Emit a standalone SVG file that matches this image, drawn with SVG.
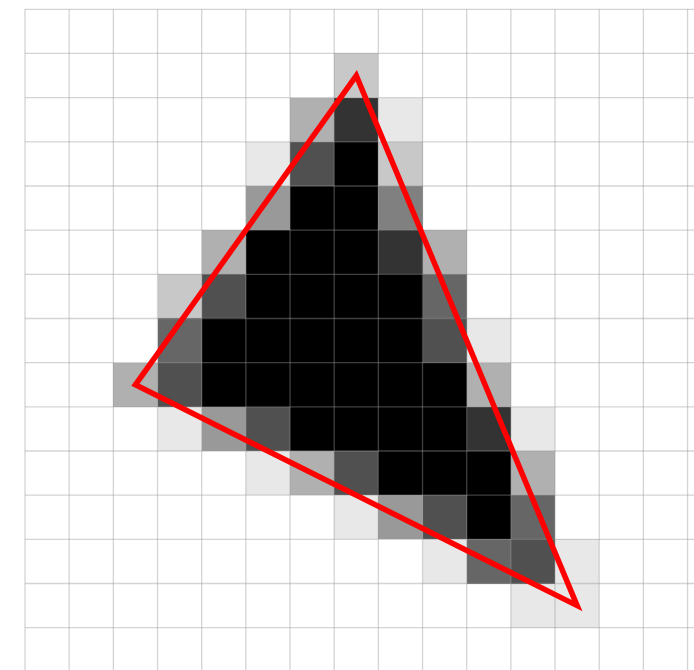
<svg xmlns="http://www.w3.org/2000/svg" width="694" height="670" viewBox="0 0 694 670">
<style>
.g{stroke:#999;stroke-opacity:0.42;stroke-width:1.3;fill:none}
.tri{fill:none;stroke:#ff0000;stroke-width:5.5;stroke-linejoin:miter;stroke-miterlimit:10}
</style>
<rect x="0" y="0" width="694" height="670" fill="#ffffff"/>
<g id="pixels" transform="translate(25 9.3) scale(44.17)" shape-rendering="crispEdges">
<rect x="7" y="1" width="1" height="1" fill="#c8c8c8"/>
<rect x="6" y="2" width="1" height="1" fill="#b0b0b0"/>
<rect x="7" y="2" width="1" height="1" fill="#333333"/>
<rect x="8" y="2" width="1" height="1" fill="#e8e8e8"/>
<rect x="5" y="3" width="1" height="1" fill="#e8e8e8"/>
<rect x="6" y="3" width="1" height="1" fill="#505050"/>
<rect x="7" y="3" width="1" height="1" fill="#000000"/>
<rect x="8" y="3" width="1" height="1" fill="#c8c8c8"/>
<rect x="5" y="4" width="1" height="1" fill="#999999"/>
<rect x="6" y="4" width="2" height="1" fill="#000000"/>
<rect x="8" y="4" width="1" height="1" fill="#808080"/>
<rect x="4" y="5" width="1" height="1" fill="#b0b0b0"/>
<rect x="5" y="5" width="3" height="1" fill="#000000"/>
<rect x="8" y="5" width="1" height="1" fill="#333333"/>
<rect x="9" y="5" width="1" height="1" fill="#b0b0b0"/>
<rect x="3" y="6" width="1" height="1" fill="#c8c8c8"/>
<rect x="4" y="6" width="1" height="1" fill="#505050"/>
<rect x="5" y="6" width="4" height="1" fill="#000000"/>
<rect x="9" y="6" width="1" height="1" fill="#666666"/>
<rect x="3" y="7" width="1" height="1" fill="#666666"/>
<rect x="4" y="7" width="5" height="1" fill="#000000"/>
<rect x="9" y="7" width="1" height="1" fill="#505050"/>
<rect x="10" y="7" width="1" height="1" fill="#e8e8e8"/>
<rect x="2" y="8" width="1" height="1" fill="#b0b0b0"/>
<rect x="3" y="8" width="1" height="1" fill="#505050"/>
<rect x="4" y="8" width="6" height="1" fill="#000000"/>
<rect x="10" y="8" width="1" height="1" fill="#b0b0b0"/>
<rect x="3" y="9" width="1" height="1" fill="#e8e8e8"/>
<rect x="4" y="9" width="1" height="1" fill="#999999"/>
<rect x="5" y="9" width="1" height="1" fill="#505050"/>
<rect x="6" y="9" width="4" height="1" fill="#000000"/>
<rect x="10" y="9" width="1" height="1" fill="#333333"/>
<rect x="11" y="9" width="1" height="1" fill="#e8e8e8"/>
<rect x="5" y="10" width="1" height="1" fill="#e8e8e8"/>
<rect x="6" y="10" width="1" height="1" fill="#b0b0b0"/>
<rect x="7" y="10" width="1" height="1" fill="#505050"/>
<rect x="8" y="10" width="3" height="1" fill="#000000"/>
<rect x="11" y="10" width="1" height="1" fill="#b0b0b0"/>
<rect x="7" y="11" width="1" height="1" fill="#e8e8e8"/>
<rect x="8" y="11" width="1" height="1" fill="#999999"/>
<rect x="9" y="11" width="1" height="1" fill="#505050"/>
<rect x="10" y="11" width="1" height="1" fill="#000000"/>
<rect x="11" y="11" width="1" height="1" fill="#666666"/>
<rect x="9" y="12" width="1" height="1" fill="#e8e8e8"/>
<rect x="10" y="12" width="1" height="1" fill="#666666"/>
<rect x="11" y="12" width="1" height="1" fill="#505050"/>
<rect x="12" y="12" width="1" height="1" fill="#e8e8e8"/>
<rect x="11" y="13" width="2" height="1" fill="#e8e8e8"/>
</g>
<g id="grid" class="g">
<path d="M25 9.3V670M69.17 9.3V670M113.34 9.3V670M157.51 9.3V670M201.68 9.3V670M245.85 9.3V670M290.02 9.3V670M334.19 9.3V670M378.36 9.3V670M422.53 9.3V670M466.7 9.3V670M510.87 9.3V670M555.04 9.3V670M599.21 9.3V670M643.38 9.3V670M687.55 9.3V670"/>
<path d="M25 9.3H694M25 53.47H694M25 97.64H694M25 141.81H694M25 185.98H694M25 230.15H694M25 274.32H694M25 318.49H694M25 362.66H694M25 406.83H694M25 451H694M25 495.17H694M25 539.34H694M25 583.51H694M25 627.68H694"/>
</g>
<g id="triangle">
<polygon class="tri" points="356.3,75.6 135.4,384.8 577.1,605.6"/>
</g>
</svg>
